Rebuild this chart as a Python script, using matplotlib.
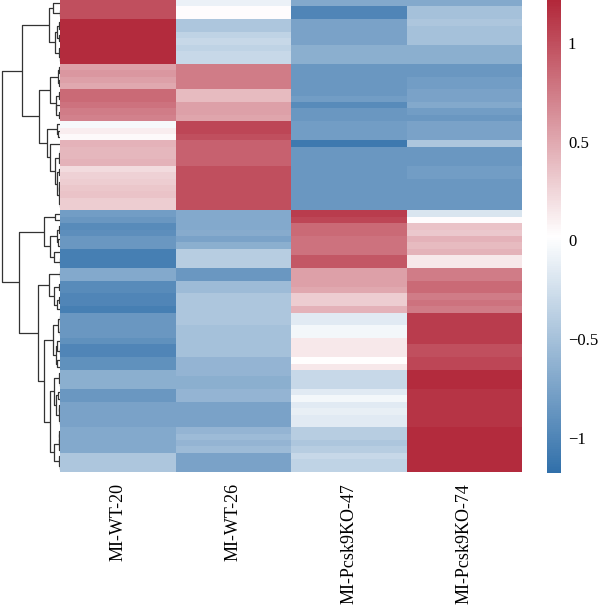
import numpy as np
import matplotlib
matplotlib.use("Agg")
import matplotlib.pyplot as plt
from matplotlib.colors import LinearSegmentedColormap

plt.rcParams['font.family'] = ['Liberation Serif', 'DejaVu Serif']

samples = ["MI-WT-20", "MI-WT-26", "MI-Pcsk9KO-47", "MI-Pcsk9KO-74"]

# row z-scores, top to bottom
wt20 = [1.0, 1.0, 1.0, 1.2, 1.2, 1.2, 1.2, 1.2, 1.2, 1.2,
        0.55, 0.6, 0.55, 0.5, 0.85, 0.85, 0.8, 0.75, 0.72, -0.03,
        0.12, 0.05, 0.45, 0.42, 0.42, 0.45, 0.22, 0.28, 0.3, 0.33,
        0.35, 0.3, 0.3,
        -0.8, -0.85, -0.95, -0.92, -0.85, -0.85, -1.05, -1.05, -1.05, -0.7,
        -0.7, -0.95, -0.95, -1.0, -1.0, -1.05, -0.85, -0.85, -0.85, -0.85,
        -0.9, -1.0, -1.0, -0.9, -0.9, -0.65, -0.65, -0.65, -0.85, -0.85,
        -0.75, -0.75, -0.75, -0.75, -0.7, -0.7, -0.7, -0.7, -0.45, -0.45,
        -0.45]
wt26 = [-0.1, 0.03, 0.03, -0.45, -0.45, -0.35, -0.3, -0.35, -0.3, -0.3,
        0.75, 0.75, 0.75, 0.75, 0.4, 0.4, 0.55, 0.55, 0.52, 1.05,
        1.05, 1.0, 0.9, 0.9, 0.9, 0.9, 1.0, 1.0, 1.0, 1.0,
        1.0, 1.0, 1.0,
        -0.7, -0.7, -0.7, -0.68, -0.75, -0.65, -0.4, -0.4, -0.4, -0.85,
        -0.85, -0.55, -0.55, -0.45, -0.45, -0.45, -0.45, -0.45, -0.5, -0.5,
        -0.5, -0.5, -0.5, -0.6, -0.6, -0.6, -0.65, -0.65, -0.6, -0.6,
        -0.75, -0.75, -0.75, -0.75, -0.6, -0.55, -0.6, -0.55, -0.75, -0.75,
        -0.75]
ko47 = [-0.7, -1.0, -1.0, -0.75, -0.75, -0.75, -0.75, -0.65, -0.65, -0.65,
        -0.85, -0.85, -0.85, -0.85, -0.85, -0.8, -0.95, -0.85, -0.85, -0.8,
        -0.8, -0.8, -1.1, -0.85, -0.85, -0.85, -0.85, -0.85, -0.85, -0.85,
        -0.85, -0.85, -0.85,
        1.1, 1.05, 0.85, 0.85, 0.8, 0.8, 0.8, 0.95, 0.95, 0.55,
        0.55, 0.55, 0.5, 0.3, 0.3, 0.45, -0.15, -0.15, -0.05, -0.05,
        0.15, 0.15, 0.15, 0.02, 0.15, -0.3, -0.3, -0.3, -0.15, -0.05,
        -0.15, -0.12, -0.15, -0.15, -0.4, -0.4, -0.45, -0.4, -0.3, -0.35,
        -0.35]
ko74 = [-0.7, -0.5, -0.5, -0.45, -0.5, -0.5, -0.5, -0.65, -0.65, -0.65,
        -0.85, -0.85, -0.8, -0.8, -0.75, -0.75, -0.7, -0.8, -0.85, -0.75,
        -0.75, -0.75, -0.45, -0.85, -0.85, -0.85, -0.8, -0.8, -0.85, -0.85,
        -0.85, -0.85, -0.85,
        -0.2, 0.03, 0.35, 0.32, 0.45, 0.4, 0.45, 0.15, 0.15, 0.75,
        0.75, 0.85, 0.85, 0.75, 0.8, 0.75, 1.1, 1.1, 1.1, 1.1,
        1.1, 1.0, 1.0, 1.05, 1.05, 1.2, 1.2, 1.2, 1.15, 1.15,
        1.15, 1.15, 1.15, 1.15, 1.2, 1.2, 1.2, 1.2, 1.2, 1.2,
        1.2]

data = np.column_stack([wt20, wt26, ko47, ko74])
n_rows = data.shape[0]


# complete linkage, only merging neighbouring clusters so row order is kept
def ordered_linkage(X):
    clusters = [{'idx': [i], 'pos': i + 0.5, 'h': 0.0} for i in range(len(X))]
    links = []
    while len(clusters) > 1:
        best, best_d = 0, None
        for k in range(len(clusters) - 1):
            a = X[clusters[k]['idx']]
            b = X[clusters[k + 1]['idx']]
            d = np.sqrt(((a[:, None, :] - b[None, :, :]) ** 2).sum(-1)).max()
            if best_d is None or d < best_d:
                best, best_d = k, d
        ca, cb = clusters[best], clusters[best + 1]
        h = max(best_d, ca['h'], cb['h'])
        links.append((ca['pos'], ca['h'], cb['pos'], cb['h'], h))
        clusters[best:best + 2] = [{'idx': ca['idx'] + cb['idx'],
                                    'pos': (ca['pos'] + cb['pos']) / 2, 'h': h}]
    return links


links = ordered_linkage(data)
max_h = max(l[4] for l in links)

fig = plt.figure(figsize=(6, 6.12), dpi=100)
W, H = 600, 612
top = 1.0
hm_h = 472 / H
ax_hm = fig.add_axes([60 / W, top - hm_h, 462 / W, hm_h])
ax_dn = fig.add_axes([1 / W, top - hm_h, 59 / W, hm_h])
ax_cb = fig.add_axes([547 / W, top - 473 / H, 14 / W, 473 / H])

cmap = LinearSegmentedColormap.from_list("bwr_custom", ["#3170aa", "#ffffff", "#b2283a"])
mesh = ax_hm.pcolormesh(data, cmap=cmap, vmin=-1.18, vmax=1.22)
ax_hm.set_ylim(n_rows, 0)
ax_hm.set_xlim(0, 4)
ax_hm.set_yticks([])
ax_hm.set_xticks(np.arange(4) + 0.5)
ax_hm.set_xticklabels(samples, rotation=90, fontsize=13)
ax_hm.tick_params(axis='x', length=0, pad=8)
for s in ax_hm.spines.values():
    s.set_visible(False)

# dendrogram
for pa, ha, pb, hb, h in links:
    ax_dn.plot([ha, h, h, hb], [pa, pa, pb, pb], color='#333333', lw=0.9,
               solid_capstyle='butt')
ax_dn.set_ylim(n_rows, 0)
ax_dn.set_xlim(max_h * 1.01, 0)
ax_dn.axis('off')

cb = fig.colorbar(mesh, cax=ax_cb)
cb.set_ticks([-1, -0.5, 0, 0.5, 1])
cb.set_ticklabels(["\u22121", "\u22120.5", "0", "0.5", "1"])
cb.ax.tick_params(length=0, labelsize=12, pad=5)
cb.outline.set_visible(False)

fig.savefig("out.png", dpi=100)
